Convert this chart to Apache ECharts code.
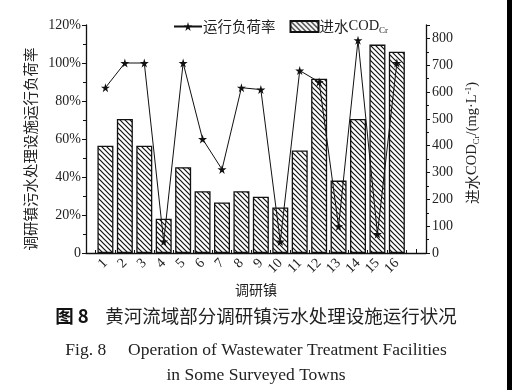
<!DOCTYPE html>
<html>
<head>
<meta charset="utf-8">
<script src="https://cdn.jsdelivr.net/npm/echarts@6/dist/echarts.min.js"></script>
<style>
html,body{margin:0;padding:0;background:#fff;}
#c{width:512px;height:390px;}
</style>
</head>
<body>
<div id="c"></div>
<script>
// ---- data ----
var towns = [1,2,3,4,5,6,7,8,9,10,11,12,13,14,15,16];
var loadRate = [87,100,100,6,100,60,44,87,86,6,96,90,14,112,10,100];      // 运行负荷率 (%)
var codIn = [400,500,400,128,320,230,188,230,210,170,382,650,270,500,777,750]; // 进水CODCr (mg/L)
var leftTicks = {min:0, max:120, interval:20};
var rightTicks = {min:0, max:850, interval:100};

var serif = '"Liberation Serif","Times New Roman",serif';
var cjk = '"Noto Sans CJK SC","Liberation Serif",sans-serif';

// hatch pattern
var T = 5;
var pc = document.createElement('canvas');
pc.width = T; pc.height = T;
var g = pc.getContext('2d');
g.fillStyle = '#fff'; g.fillRect(0,0,T,T);
g.strokeStyle = '#111'; g.lineWidth = 1.2;
g.beginPath();
g.moveTo(-1,-1); g.lineTo(T+1,T+1);
g.moveTo(-1,T-1); g.lineTo(1,T+1);
g.moveTo(T-1,-1); g.lineTo(T+1,1);
g.stroke();
var hatch = {image: pc, repeat: 'repeat'};

var star = 'path://M50,0 L61,35 L98,35 L68,57 L79,91 L50,70 L21,91 L32,57 L2,35 L39,35 Z';
var richSmall = {
  lat: {fontFamily: serif, fontSize: 14.5, color: '#222'},
  sub: {fontFamily: serif, fontSize: 9, color: '#222', verticalAlign: 'bottom', padding: [8,0,0,0]},
  sup: {fontFamily: serif, fontSize: 9, color: '#222', verticalAlign: 'top', padding: [0,0,8,0]}
};

var chart = echarts.init(document.getElementById('c'), null, {renderer:'canvas'});
var option = {
  backgroundColor: '#fff',
  animation: false,
  grid: {left: 86, right: 86, top: 25, bottom: 137},
  legend: {
    left: 168, top: 14,
    itemWidth: 28, itemHeight: 11, itemGap: 14,
    data: [
      {name: '运行负荷率'},
      {name: '进水CODCr', icon: 'rect'}
    ],
    formatter: function(n){ return n === '进水CODCr' ? '进水{lat|COD}{sub|Cr}' : n; },
    textStyle: {
      fontFamily: cjk, fontSize: 14.5, color: '#222', padding: [0,0,0,-4],
      rich: richSmall
    }
  },
  xAxis: {
    type: 'value', min: 0, max: 17.5, interval: 1,
    name: '调研镇', nameLocation: 'middle', nameGap: 24,
    nameTextStyle: {fontFamily: cjk, fontSize: 14, color: '#222'},
    axisLine: {lineStyle: {color: '#111', width: 1.3}},
    axisTick: {inside: true, length: 4, lineStyle: {color: '#111'}},
    minorTick: {show: true, splitNumber: 2, length: 3, lineStyle: {color: '#111'}},
    splitLine: {show: false},
    axisLabel: {
      rotate: 45, margin: 8, fontFamily: serif, fontSize: 14, color: '#222',
      showMinLabel: false, showMaxLabel: false,
      formatter: function(v){ return (v >= 1 && v <= 16) ? String(v) : ''; }
    }
  },
  yAxis: [
    {
      type: 'value', position: 'left',
      min: leftTicks.min, max: leftTicks.max, interval: leftTicks.interval,
      name: '调研镇污水处理设施运行负荷率', nameLocation: 'middle', nameGap: 46,
      nameTextStyle: {fontFamily: cjk, fontSize: 14.5, color: '#222', padding: [0, 20, 0, 0]},
      axisLine: {show: true, lineStyle: {color: '#111', width: 1.3}},
      axisTick: {show: true, inside: false, length: 4, lineStyle: {color: '#111'}},
      minorTick: {show: true, splitNumber: 2, length: 3, lineStyle: {color: '#111'}},
      splitLine: {show: false},
      axisLabel: {
        margin: 5, fontFamily: serif, fontSize: 14, color: '#222',
        formatter: function(v){ return v === 0 ? '0' : v + '%'; }
      }
    },
    {
      type: 'value', position: 'right',
      min: rightTicks.min, max: rightTicks.max, interval: rightTicks.interval,
      name: '进水{lat|COD}{sub|Cr}{lat|/(mg·L}{sup|-1}{lat|)}', nameLocation: 'middle', nameGap: 32,
      nameTextStyle: {
        fontFamily: cjk, fontSize: 14.5, color: '#222', padding: [0, 8, 0, 0],
        rich: richSmall
      },
      axisLine: {show: true, lineStyle: {color: '#111', width: 1.3}},
      axisTick: {show: true, inside: false, length: 4, lineStyle: {color: '#111'}},
      minorTick: {show: true, splitNumber: 2, length: 3, lineStyle: {color: '#111'}},
      splitLine: {show: false},
      axisLabel: {
        margin: 6, fontFamily: serif, fontSize: 14, color: '#222', showMaxLabel: false,
        formatter: function(v){ return v > 800 ? '' : String(v); }
      }
    }
  ],
  series: [
    {
      name: '进水CODCr', type: 'bar', yAxisIndex: 1, barWidth: 16,
      data: towns.map(function(t,i){ return [t, codIn[i]]; }),
      itemStyle: {color: hatch, borderColor: '#111', borderWidth: 1.3}
    },
    {
      name: '运行负荷率', type: 'line', yAxisIndex: 0,
      data: towns.map(function(t,i){ return [t, loadRate[i]]; }),
      symbol: star, symbolSize: 9,
      lineStyle: {color: '#111', width: 1},
      itemStyle: {color: '#111'}
    }
  ],
  graphic: [
    {type: 'rect', shape: {x: 507, y: 0, width: 5, height: 390}, style: {fill: '#000'}}
  ],
  title: [
    {
      text: '{b|图 8}    黄河流域部分调研镇污水处理设施运行状况',
      left: 'center', top: 302,
      textStyle: {
        fontFamily: cjk, fontSize: 18.5, fontWeight: 'normal', color: '#222',
        rich: {b: {fontFamily: '"Noto Sans CJK SC",sans-serif', fontSize: 18.5, fontWeight: 'bold', color: '#111'}}
      }
    },
    {
      text: 'Fig. 8     Operation of Wastewater Treatment Facilities',
      left: 'center', top: 336,
      textStyle: {fontFamily: serif, fontSize: 17.5, fontWeight: 'normal', color: '#222'}
    },
    {
      text: 'in Some Surveyed Towns',
      left: 'center', top: 361,
      textStyle: {fontFamily: serif, fontSize: 17.5, fontWeight: 'normal', color: '#222'}
    }
  ]
};
chart.setOption(option);
</script>
</body>
</html>
